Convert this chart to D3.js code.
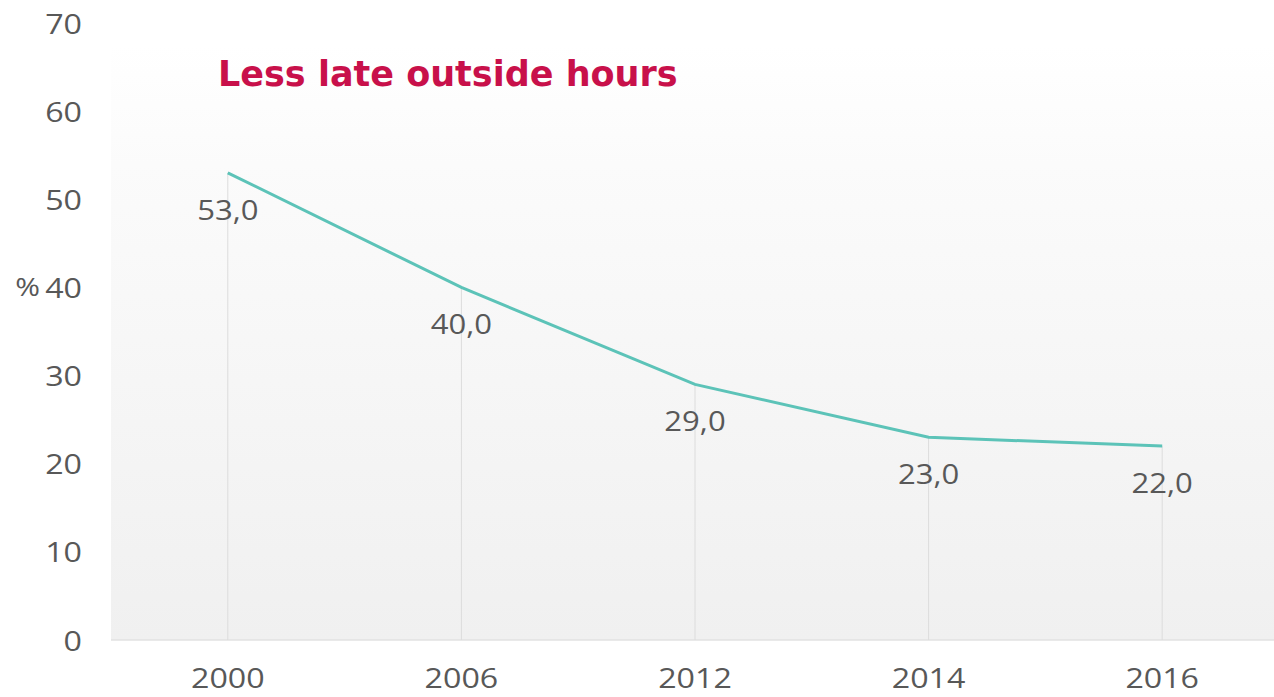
<!DOCTYPE html>
<html>
<head>
<meta charset="utf-8">
<script src="https://cdn.jsdelivr.net/npm/d3@7"></script>
<style>
  body { margin: 0; background: #fff; }
  text { font-family: "Open Sans", sans-serif; }
</style>
</head>
<body>
<svg id="chart" width="1274" height="697"></svg>
<script>
const years = ["2000", "2006", "2012", "2014", "2016"];
const values = [53.0, 40.0, 29.0, 23.0, 22.0];
const yTicks = [0, 10, 20, 30, 40, 50, 60, 70];
const title = "Less late outside hours";

const svg = d3.select("#chart");
const mLeft = 111, mRight = 1279, mTop = 23, mBottom = 640;
const stretch = "scale(1.15,1)"; // the source text is drawn a bit wide
const textColor = "#585858";

const x = d3.scaleBand().domain(years).range([mLeft, mRight]);
const y = d3.scaleLinear().domain([0, 70]).range([mBottom, mTop]);

// background gradient
const grad = svg.append("defs").append("linearGradient")
  .attr("id", "bg").attr("x1", 0).attr("y1", 0).attr("x2", 0).attr("y2", 1);
grad.append("stop").attr("offset", "0%").attr("stop-color", "#ffffff");
grad.append("stop").attr("offset", "20%").attr("stop-color", "#fbfbfb");
grad.append("stop").attr("offset", "100%").attr("stop-color", "#f0f0f0");

svg.append("rect")
  .attr("x", mLeft).attr("y", 45)
  .attr("width", mRight - mLeft).attr("height", mBottom - 45)
  .attr("fill", "url(#bg)");

// baseline
svg.append("line")
  .attr("x1", mLeft).attr("x2", mRight)
  .attr("y1", mBottom).attr("y2", mBottom)
  .attr("stroke", "#e2e2e2").attr("stroke-width", 1.5);

const cx = d => x(d) + x.bandwidth() / 2;

// drop lines
svg.selectAll(".drop").data(years).join("line")
  .attr("x1", d => cx(d)).attr("x2", d => cx(d))
  .attr("y1", (d, i) => y(values[i])).attr("y2", mBottom)
  .attr("stroke", "#dcdcdc").attr("stroke-width", 1);

// y axis labels
const yAxis = d3.axisLeft(y).tickValues(yTicks).tickSize(0).tickPadding(0);
const ya = svg.append("g").attr("transform", "translate(82,0)").call(yAxis);
ya.select(".domain").remove();
ya.selectAll("text")
  .attr("x", 0)
  .style("font-family", "'Open Sans', sans-serif")
  .style("font-weight", 500)
  .style("font-size", "28px").attr("fill", textColor).attr("dy", "0.36em")
  .attr("transform", stretch);

svg.append("g").attr("transform", `translate(40,${y(40) + 9})`)
  .append("text")
  .attr("text-anchor", "end")
  .attr("fill", textColor).style("font-size", "26px")
  .style("font-weight", 500)
  .attr("transform", stretch)
  .text("%");

// x axis labels
const xAxis = d3.axisBottom(x).tickSize(0).tickPadding(0);
const xa = svg.append("g").attr("transform", `translate(0,${mBottom + 38})`).call(xAxis);
xa.select(".domain").remove();
xa.selectAll("text")
  .attr("y", 0)
  .style("font-family", "'Open Sans', sans-serif")
  .style("font-weight", 500)
  .style("font-size", "28px").attr("fill", textColor).attr("dy", "0.36em")
  .attr("transform", stretch);

// line
const line = d3.line()
  .x((d, i) => cx(years[i]))
  .y(d => y(d));

svg.append("path")
  .datum(values)
  .attr("d", line)
  .attr("fill", "none")
  .attr("stroke", "#5cc3b8")
  .attr("stroke-width", 3);

// value labels
svg.selectAll(".val").data(values).join("g")
  .attr("transform", (d, i) => `translate(${cx(years[i])},${y(d) + 37})`)
  .append("text")
  .attr("dy", "0.36em")
  .attr("text-anchor", "middle")
  .attr("fill", textColor)
  .style("font-weight", 500)
  .style("font-size", "27px")
  .attr("transform", stretch)
  .text(d => d.toFixed(1).replace(".", ","));

// title
svg.append("text")
  .attr("x", 218).attr("y", 86)
  .attr("fill", "#c8104a")
  .style("font-family", "'DejaVu Sans', Verdana, sans-serif")
  .style("font-weight", "bold")
  .style("font-size", "35px")
  .text(title);
</script>
</body>
</html>
